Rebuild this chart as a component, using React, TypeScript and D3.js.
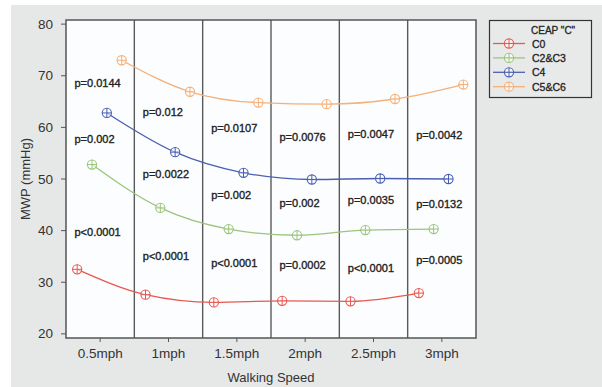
import React from 'react';
import * as d3 from 'd3';

// walking speed categories and series
const speeds = ['0.5mph', '1mph', '1.5mph', '2mph', '2.5mph', '3mph'];
const groups = ['C0', 'C2&C3', 'C4', 'C5&C6'];
const colors = ['#e8584f', '#9cc47c', '#4b5fb2', '#f4b07a'];

const c0 = [32.5, 27.6, 26.1, 26.4, 26.3, 27.9];
const c2c3 = [52.8, 44.4, 40.3, 39.1, 40.1, 40.3];
const c4 = [62.8, 55.2, 51.2, 49.9, 50.1, 50.0];
const c5c6 = [73.0, 66.9, 64.8, 64.5, 65.5, 68.3];

// p-value annotations per speed, with the mmHg height they sit at
const pTop = ['p=0.0144', 'p=0.012', 'p=0.0107', 'p=0.0076', 'p=0.0047', 'p=0.0042'];
const pTopY = [68.6, 62.9, 59.8, 58.2, 58.7, 58.6];
const pMid = ['p=0.002', 'p=0.0022', 'p=0.002', 'p=0.002', 'p=0.0035', 'p=0.0132'];
const pMidY = [57.7, 51.0, 46.9, 45.4, 46.0, 45.1];
const pLow = ['p<0.0001', 'p<0.0001', 'p<0.0001', 'p=0.0002', 'p<0.0001', 'p=0.0005'];
const pLowY = [39.8, 35.1, 33.7, 33.4, 32.7, 34.4];

const yTicks = [20, 30, 40, 50, 60, 70, 80];

const W = 602;
const H = 387;
const left = 66, right = 476, top = 20, bottom = 338;
const font = 'Arial, "Liberation Sans", sans-serif';

function Marker({ x, y, color }: { x: number; y: number; color: string }) {
    const r = 4.6;
    return (
        <g>
            <circle cx={x} cy={y} r={r} fill="#ffffff" fillOpacity={0.6} stroke={color} strokeWidth={1.1} />
            <line x1={x - r} x2={x + r} y1={y} y2={y} stroke={color} strokeWidth={1} />
            <line x1={x} x2={x} y1={y - r} y2={y + r} stroke={color} strokeWidth={1} />
        </g>
    );
}

export default function App() {
    const series = [c0, c2c3, c4, c5c6];

    const x = d3.scaleBand().domain(speeds).range([left, right]).padding(0);
    const dodge = d3.scalePoint().domain(groups).range([-23, 21.5]);
    const y = d3.scaleLinear().domain([19.2, 80.8]).range([bottom, top]);

    const line = d3.line<[number, number]>()
        .x(d => d[0])
        .y(d => d[1])
        .curve(d3.curveMonotoneX);

    const cx = (s: string, g: string) => (x(s) as number) + x.bandwidth() / 2 + (dodge(g) as number);

    const pRows: [string[], number[]][] = [[pTop, pTopY], [pMid, pMidY], [pLow, pLowY]];

    return (
        <svg width={W} height={H} style={{ position: 'absolute', left: 0, top: 0 }} fontFamily={font}>
            <rect x={0} y={0} width={W} height={H} fill="#ffffff" />
            <rect x={11} y={5} width={W - 11} height={H - 5} fill="#e6e8e8" />
            <rect x={left} y={top} width={right - left} height={bottom - top} fill="#fbfdfe" />

            {/* band separators */}
            {speeds.slice(1).map(s => (
                <line key={s} x1={x(s)} x2={x(s)} y1={top} y2={bottom} stroke="#5a5a5a" strokeWidth={1.4} />
            ))}

            {/* p-values */}
            {pRows.map(([labels, ys], ri) =>
                labels.map((t, i) => (
                    <text key={ri + '-' + i} x={(x(speeds[i]) as number) + 8.5} y={y(ys[i])}
                        dominantBaseline="central" fontSize={11} fill="#222" stroke="#222" strokeWidth={0.35}>{t}</text>
                ))
            )}

            {/* series */}
            {series.map((vals, gi) => {
                const pts: [number, number][] = vals.map((v, i) => [cx(speeds[i], groups[gi]), y(v)]);
                return (
                    <g key={groups[gi]}>
                        <path d={line(pts) as string} fill="none" stroke={colors[gi]} strokeWidth={1.3} />
                        {pts.map((p, i) => <Marker key={i} x={p[0]} y={p[1]} color={colors[gi]} />)}
                    </g>
                );
            })}

            <rect x={left} y={top} width={right - left} height={bottom - top} fill="none" stroke="#555" strokeWidth={1.5} />

            {/* y axis */}
            {yTicks.map(t => (
                <g key={t}>
                    <line x1={left - 5} x2={left} y1={y(t)} y2={y(t)} stroke="#555" strokeWidth={1} />
                    <text x={left - 13} y={y(t)} textAnchor="end" dominantBaseline="central" fontSize={13.5} fill="#333">{t}</text>
                </g>
            ))}
            <text transform={`translate(25,${(top + bottom) / 2}) rotate(-90)`} textAnchor="middle"
                dominantBaseline="central" fontSize={13} fill="#333">MWP (mmHg)</text>

            {/* x axis */}
            {speeds.map(s => {
                const c = (x(s) as number) + x.bandwidth() / 2;
                return (
                    <g key={s}>
                        <line x1={c} x2={c} y1={bottom} y2={bottom + 4} stroke="#555" strokeWidth={1} />
                        <text x={c} y={353} textAnchor="middle" dominantBaseline="central" fontSize={13.5} fill="#333">{s}</text>
                    </g>
                );
            })}
            <text x={(left + right) / 2} y={377} textAnchor="middle" dominantBaseline="central" fontSize={13} fill="#333">Walking Speed</text>

            {/* legend */}
            <g>
                <rect x={489.5} y={20.5} width={102} height={77} fill="#e8eaea" stroke="#333" strokeWidth={1.2} />
                <text x={531} y={30} dominantBaseline="central" fontSize={10} fill="#222" stroke="#222" strokeWidth={0.3}>CEAP "C"</text>
                {groups.map((g, i) => {
                    const ly = 43.5 + i * 14.4;
                    return (
                        <g key={g}>
                            <line x1={493} x2={525} y1={ly} y2={ly} stroke={colors[i]} strokeWidth={1.3} />
                            <Marker x={509} y={ly} color={colors[i]} />
                            <text x={532} y={ly} dominantBaseline="central" fontSize={10.5} fill="#222" stroke="#222" strokeWidth={0.3}>{g}</text>
                        </g>
                    );
                })}
            </g>
        </svg>
    );
}
